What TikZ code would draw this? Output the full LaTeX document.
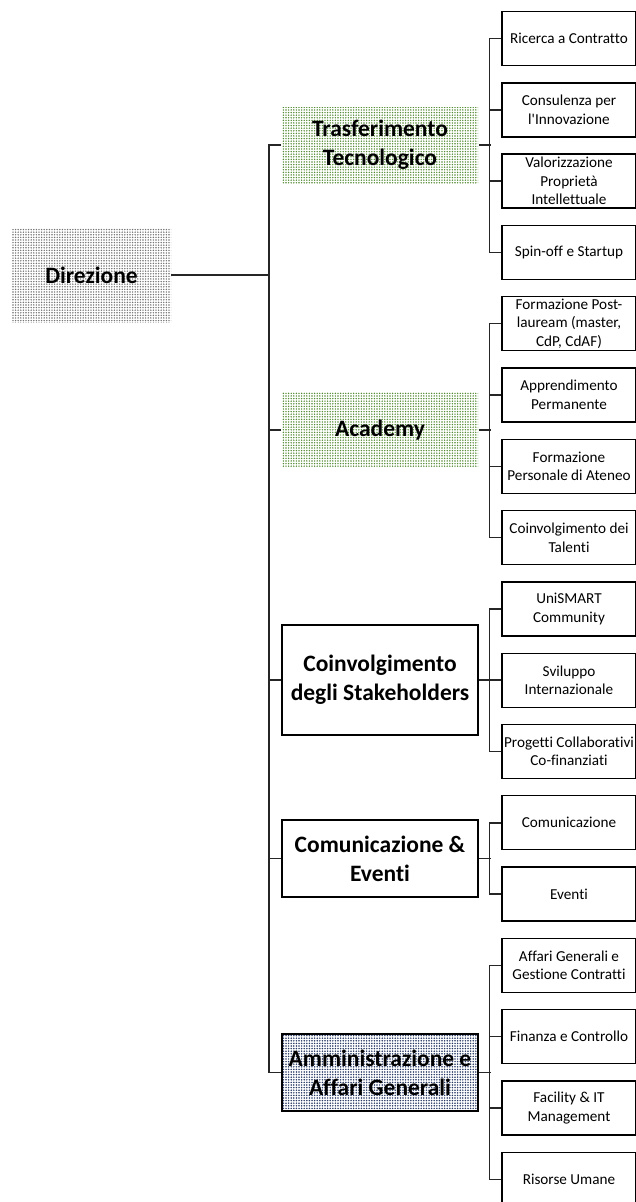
\documentclass[tikz,border=0pt]{standalone}
\usepackage{fontspec}
\setmainfont{Carlito}[Ligatures=NoCommon]
\usetikzlibrary{patterns.meta}

\definecolor{dotgreen}{RGB}{84,140,53}
\definecolor{dotnavy}{RGB}{38,56,100}

\tikzset{
    unit/.style={draw=black, line width=2.4pt, minimum width=196pt, inner sep=0pt,
        align=center, font=\fontsize{23.5}{29}\selectfont\bfseries},
    office/.style={draw=black, line width=1.3pt, minimum width=134pt, minimum height=54pt,
        inner sep=0pt, align=center, font=\fontsize{15.2}{18.5}\selectfont},
    greydots/.style={pattern={Dots[distance=2.6pt,radius=0.8pt]}, pattern color=black!55},
    greendots/.style={pattern={Dots[distance=2.6pt,radius=0.8pt]}, pattern color=dotgreen},
    bluedots/.style={pattern={Dots[distance=2.6pt,radius=0.85pt]}, pattern color=dotnavy},
    conn/.style={draw=black!85, line width=1.5pt}
}

\begin{document}
\begin{tikzpicture}[x=1pt, y=-1pt]
    \useasboundingbox (0,0) rectangle (636,1202);

    % Direzione
    \node[greydots, inner sep=0pt, minimum width=159pt, minimum height=94pt,
          font=\fontsize{23.5}{29}\selectfont\bfseries] (dir) at (91.5,275) {Direzione};

    % Units
    \node[unit, draw=none, greendots, minimum height=76pt] (tt) at (380,145) {Trasferimento\\Tecnologico};
    \node[unit, draw=none, greendots, minimum height=75pt] (ac) at (380,430) {Academy};
    \node[unit, minimum height=110pt] (cs) at (380,680) {Coinvolgimento\\degli Stakeholders};
    \node[unit, minimum height=77pt] (ce) at (380,858.5) {Comunicazione \&\\Eventi};
    \node[unit, bluedots, minimum height=77pt] (am) at (380,1072.5) {Amministrazione e\\Affari Generali};

    % Offices
    \node[office] (rc) at (569,38.5) {Ricerca a Contratto};
    \node[office, line width=2.4pt] (ci) at (569,109.8) {Consulenza per\\l\textquotesingle Innovazione};
    \node[office] (vp) at (569,181.1) {Valorizzazione\\Proprietà\\Intellettuale};
    \node[office] (ss) at (569,252.4) {Spin-off e Startup};
    \node[office] (fp) at (569,323.7) {Formazione Post-\\lauream (master,\\CdP, CdAF)};
    \node[office] (ap) at (569,395) {Apprendimento\\Permanente};
    \node[office] (fa) at (569,466.3) {Formazione\\Personale di Ateneo};
    \node[office] (ct) at (569,537.6) {Coinvolgimento dei\\Talenti};
    \node[office] (uc) at (569,608.9) {UniSMART\\Community};
    \node[office] (si) at (569,680.2) {Sviluppo\\Internazionale};
    \node[office] (pc) at (569,751.5) {Progetti Collaborativi\\Co-finanziati};
    \node[office] (co) at (569,822.8) {Comunicazione};
    \node[office] (ev) at (569,894.1) {Eventi};
    \node[office] (ag) at (569,965.4) {Affari Generali e\\Gestione Contratti};
    \node[office] (fc) at (569,1036.7) {Finanza e Controllo};
    \node[office] (fi) at (569,1108) {Facility \& IT\\Management};
    \node[office] (ru) at (569,1179.3) {Risorse Umane};

    % Draw the trunk
    \draw[conn] (tt.west) -- ++(-12,0) coordinate (trunk) |- (am.west);
    \foreach \u in {ac,cs,ce}
        \draw[conn] (\u.west) -- ++(-12,0);
    \draw[conn] (dir.east) -- (dir.east -| trunk);

    % Draw the branches
    \foreach \u/\first/\last in {tt/rc/ss, ac/fp/ct, cs/uc/pc, ce/co/ev, am/ag/ru} {
        \draw[conn] (\u.east) -- ++(12,0);
        \draw[conn] (\first.west) -- ++(-12,0) |- (\last.west);
    }
    \foreach \o in {ci,vp,ap,fa,si,fc,fi}
        \draw[conn] (\o.west) -- ++(-12,0);
\end{tikzpicture}
\end{document}
